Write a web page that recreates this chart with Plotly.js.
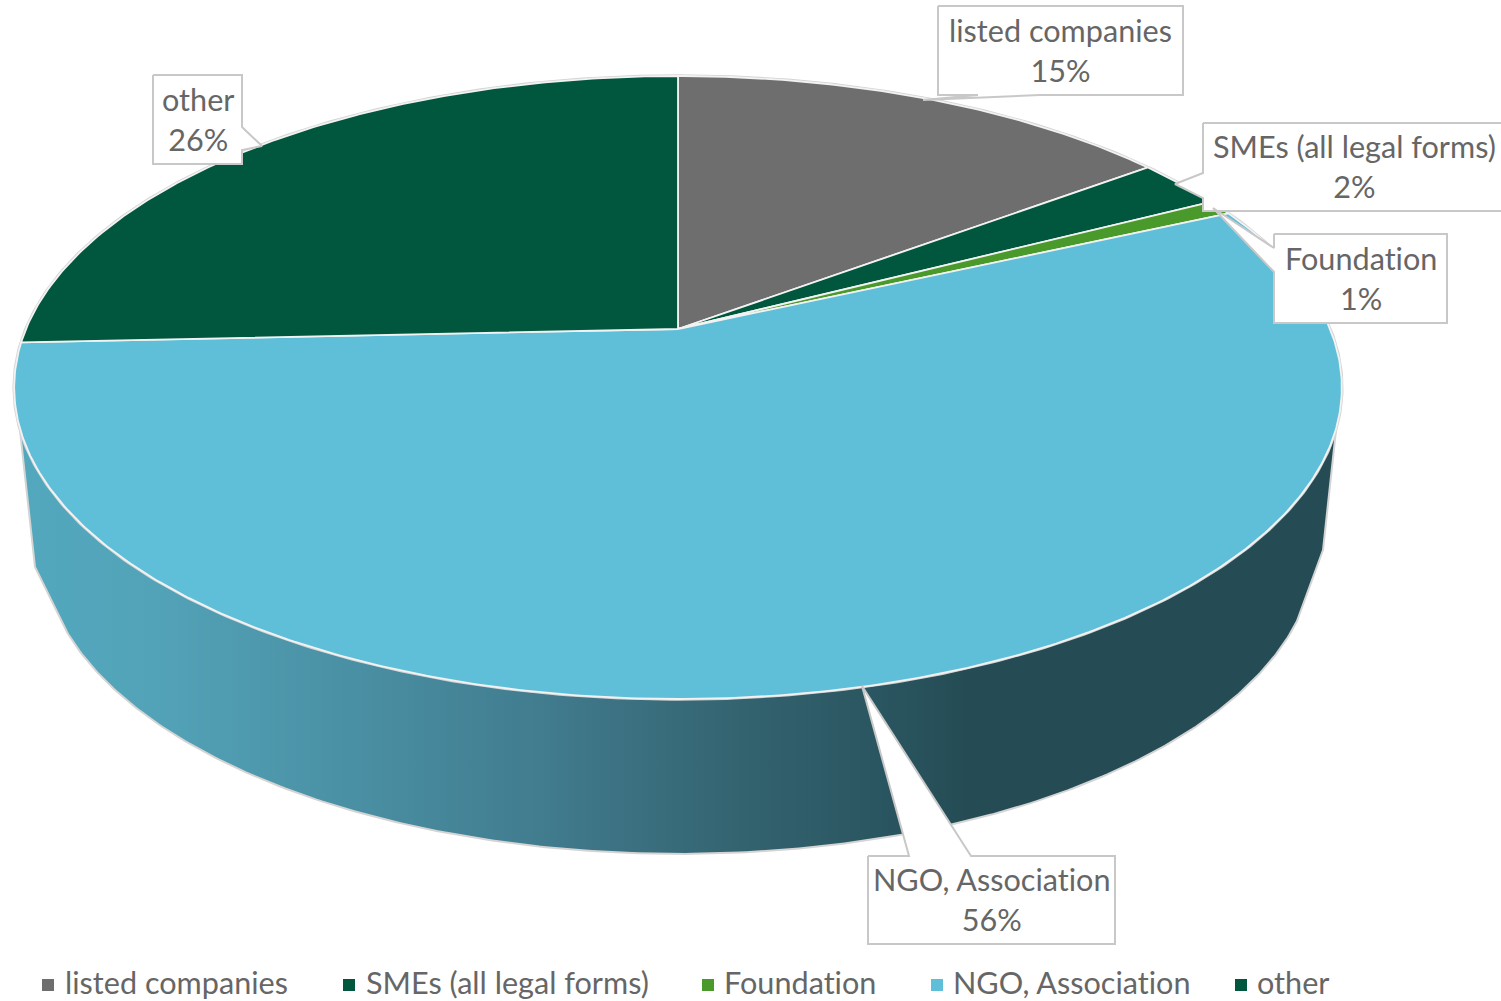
<!DOCTYPE html>
<html>
<head>
<meta charset="utf-8">
<script src="https://cdn.plot.ly/plotly-3.0.1.min.js"></script>
<style>html,body{margin:0;padding:0;background:#fff;overflow:hidden}#chart{width:1501px;height:1001px}text{font-variant-ligatures:none!important;font-feature-settings:"liga" 0,"clig" 0!important;letter-spacing:0.01px}</style>
</head>
<body>
<div id="chart"></div>
<script>
// ---- data ----
const categories = ['listed companies', 'SMEs (all legal forms)', 'Foundation', 'NGO, Association', 'other'];
const shares = [14.8, 2.6, 0.8, 56.1, 25.7];
const percentLabels = ['15%', '2%', '1%', '56%', '26%'];
const sliceColors = ['#6e6e6e', '#00573d', '#4a9a2b', '#5fbfd8', '#00573d'];

// ---- chart geometry (pixels of the 1501x1001 plot area) ----
const topFace = {x0: 678, y0: 329, A: 652, B: 300.5, k: 0.1878};
const bottomFace = {x0: 679, y0: 491.7, A: 624.7, B: 294.2, k: 0.1878};
const wallShoulderLeft = [35, 567];
const wallShoulderRight = [1323, 550];
const legendMarkerX = [48, 349, 708, 937, 1241];
const legendTextX = [65, 366, 724, 953, 1257];
const legendY = 985;
// callout boxes: [left, top, right, bottom], pointer tip, pointer base points
const callouts = [
  {box: [938, 6, 1183, 95], tip: [923, 100], side: 'bottom', base: [978, 1040]},
  {box: [1203, 123, 1506, 211], tip: [1175, 184], side: 'left', base: [173, 198]},
  {box: [1274, 234, 1447, 323], tip: [1213, 208], side: 'left', base: [248, 272]},
  {box: [868, 856, 1115, 944], tip: [862, 686], side: 'top', base: [909, 971]},
  {box: [153, 75, 242, 164], tip: [262, 146], side: 'right', base: [127, 150]}
];

function project(face, deg) {
  const t = deg * Math.PI / 180, u = Math.sin(t), v = Math.cos(t), w = 1 + face.k * v;
  return [face.x0 + face.A * u / w, face.y0 - face.B * v / w];
}
function arc(face, from, to) {
  const pts = [], n = Math.max(2, Math.ceil(Math.abs(to - from) * 2));
  for (let i = 0; i <= n; i++) pts.push(project(face, from + (to - from) * i / n));
  return pts;
}
function xs(p) { return p.map(q => q[0]); }
function ys(p) { return p.map(q => q[1]); }

const traces = [];
const total = shares.reduce((a, b) => a + b, 0);

// side wall
const wall = arc(topFace, 108, 252).concat([wallShoulderLeft], arc(bottomFace, 246, 114), [wallShoulderRight]);
wall.push(wall[0]);
traces.push({
  x: xs(wall), y: ys(wall), mode: 'lines', fill: 'toself', hoverinfo: 'skip', showlegend: false,
  line: {color: '#d4d4d4', width: 2},
  fillgradient: {type: 'horizontal', colorscale: [
    [0, '#52a8bd'], [0.1, '#53a3b8'], [0.25, '#4a90a4'], [0.4, '#417b8e'],
    [0.55, '#33636f'], [0.65, '#2a5661'], [0.72, '#254c55'], [1, '#254c55']]}
});

// outline of the top face
const rim = arc(topFace, 0, 360);
traces.push({x: xs(rim), y: ys(rim), mode: 'lines', hoverinfo: 'skip', showlegend: false,
  line: {color: '#d4d4d4', width: 3.5}});

// slices
let acc = 0;
categories.forEach((name, i) => {
  const from = acc / total * 360, to = (acc + shares[i]) / total * 360;
  acc += shares[i];
  const pts = [[topFace.x0, topFace.y0]].concat(arc(topFace, from, to));
  pts.push([topFace.x0, topFace.y0]);
  traces.push({x: xs(pts), y: ys(pts), mode: 'lines', fill: 'toself', fillcolor: sliceColors[i],
    name: name, text: percentLabels[i], hoverinfo: 'name+text', showlegend: false,
    line: {color: '#f2f2f2', width: 1.8}});
});

// callouts
callouts.forEach(c => {
  const [l, t, r, b] = c.box;
  let p;
  if (c.side === 'bottom') p = [[l,t],[r,t],[r,b],[c.base[1],b],c.tip,[c.base[0],b],[l,b],[l,t]];
  if (c.side === 'top') p = [[l,t],[c.base[0],t],c.tip,[c.base[1],t],[r,t],[r,b],[l,b],[l,t]];
  if (c.side === 'left') p = [[l,t],[r,t],[r,b],[l,b],[l,c.base[1]],c.tip,[l,c.base[0]],[l,t]];
  if (c.side === 'right') p = [[l,t],[r,t],[r,c.base[0]],c.tip,[r,c.base[1]],[r,b],[l,b],[l,t]];
  traces.push({x: xs(p), y: ys(p), mode: 'lines', fill: 'toself', fillcolor: '#ffffff',
    hoverinfo: 'skip', showlegend: false, line: {color: '#c8c8c8', width: 2}});
});

// legend markers
traces.push({x: legendMarkerX, y: categories.map(() => legendY), mode: 'markers', hoverinfo: 'skip', showlegend: false,
  marker: {symbol: 'square', size: 12, color: sliceColors}});

const font = {family: 'Lato, "Noto Sans", sans-serif', size: 30.6, color: '#666666'};
const annotations = [];
categories.forEach((name, i) => {
  const b = callouts[i].box;
  annotations.push({x: (b[0] + b[2]) / 2, y: (b[1] + b[3]) / 2 - 0.5, xref: 'x', yref: 'y',
    text: name + '<br>' + percentLabels[i], showarrow: false, font: font, align: 'center',
    xanchor: 'center', yanchor: 'middle'});
  annotations.push({x: legendTextX[i], y: legendY - 3, xref: 'x', yref: 'y', text: name, showarrow: false,
    font: font, xanchor: 'left', yanchor: 'middle', xshift: -2});
});

Plotly.newPlot('chart', traces, {
  width: 1501, height: 1001,
  margin: {l: 0, r: 0, t: 0, b: 0},
  paper_bgcolor: '#ffffff', plot_bgcolor: '#ffffff',
  showlegend: false,
  xaxis: {range: [0, 1501], visible: false, fixedrange: true},
  yaxis: {range: [1001, 0], visible: false, fixedrange: true},
  annotations: annotations
}, {displayModeBar: false, staticPlot: true});
</script>
</body>
</html>
